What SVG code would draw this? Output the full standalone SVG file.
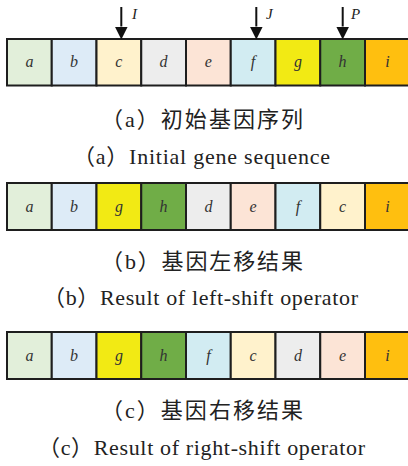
<svg xmlns="http://www.w3.org/2000/svg" width="408" height="466" viewBox="0 0 408 466">
<style>
.cell{stroke:#1e1e1e;stroke-width:2}
.lbl{font-family:"Liberation Serif",serif;font-style:italic;font-size:16px;fill:#333;text-anchor:middle}
.cap{font-family:"Liberation Serif","Noto Sans CJK SC",serif;font-size:22px;fill:#222}
.en{font-family:"Liberation Serif","Noto Sans CJK SC",serif;font-size:22px;fill:#222}
.ptr{font-family:"Liberation Serif",serif;font-style:italic;font-size:15px;fill:#222}
.cA{fill:#e2efda}.cB{fill:#ddebf7}.cC{fill:#fff2cc}.cD{fill:#ededed}.cE{fill:#fce4d6}
.cF{fill:#d2ecf2}.cG{fill:#f2ea14}.cH{fill:#70ad47}.cI{fill:#ffbf0f}
.arr{stroke:#111;stroke-width:2;fill:none}
</style>
<defs>
<marker id="ah" markerUnits="userSpaceOnUse" markerWidth="14" markerHeight="14" refX="0" refY="6.5" orient="auto">
<path d="M0,0 L13,6.5 L0,13 z" fill="#111"/>
</marker>
</defs>

<!-- Row a: initial sequence -->
<g id="rowA">
<g id="a-a"><rect class="cell cA" x="7" y="39" width="44.75" height="46.5"/><text class="lbl" x="29.4" y="67">a</text></g>
<g id="a-b"><rect class="cell cB" x="51.75" y="39" width="44.75" height="46.5"/><text class="lbl" x="74.1" y="67">b</text></g>
<g id="a-c"><rect class="cell cC" x="96.5" y="39" width="44.75" height="46.5"/><text class="lbl" x="118.9" y="67">c</text></g>
<g id="a-d"><rect class="cell cD" x="141.25" y="39" width="44.75" height="46.5"/><text class="lbl" x="163.6" y="67">d</text></g>
<g id="a-e"><rect class="cell cE" x="186" y="39" width="44.75" height="46.5"/><text class="lbl" x="208.4" y="67">e</text></g>
<g id="a-f"><rect class="cell cF" x="230.75" y="39" width="44.75" height="46.5"/><text class="lbl" x="253.1" y="67">f</text></g>
<g id="a-g"><rect class="cell cG" x="275.5" y="39" width="44.75" height="46.5"/><text class="lbl" x="297.9" y="67">g</text></g>
<g id="a-h"><rect class="cell cH" x="320.25" y="39" width="44.75" height="46.5"/><text class="lbl" x="342.6" y="67">h</text></g>
<g id="a-i"><rect class="cell cI" x="365" y="39" width="44.75" height="46.5"/><text class="lbl" x="387.4" y="67">i</text></g>
</g>

<!-- Row b: left-shift -->
<g id="rowB">
<g id="b-a"><rect class="cell cA" x="7" y="183" width="44.75" height="47"/><text class="lbl" x="29.4" y="211.5">a</text></g>
<g id="b-b"><rect class="cell cB" x="51.75" y="183" width="44.75" height="47"/><text class="lbl" x="74.1" y="211.5">b</text></g>
<g id="b-g"><rect class="cell cG" x="96.5" y="183" width="44.75" height="47"/><text class="lbl" x="118.9" y="211.5">g</text></g>
<g id="b-h"><rect class="cell cH" x="141.25" y="183" width="44.75" height="47"/><text class="lbl" x="163.6" y="211.5">h</text></g>
<g id="b-d"><rect class="cell cD" x="186" y="183" width="44.75" height="47"/><text class="lbl" x="208.4" y="211.5">d</text></g>
<g id="b-e"><rect class="cell cE" x="230.75" y="183" width="44.75" height="47"/><text class="lbl" x="253.1" y="211.5">e</text></g>
<g id="b-f"><rect class="cell cF" x="275.5" y="183" width="44.75" height="47"/><text class="lbl" x="297.9" y="211.5">f</text></g>
<g id="b-c"><rect class="cell cC" x="320.25" y="183" width="44.75" height="47"/><text class="lbl" x="342.6" y="211.5">c</text></g>
<g id="b-i"><rect class="cell cI" x="365" y="183" width="44.75" height="47"/><text class="lbl" x="387.4" y="211.5">i</text></g>
</g>

<!-- Row c: right-shift -->
<g id="rowC">
<g id="c-a"><rect class="cell cA" x="7" y="332" width="44.75" height="47"/><text class="lbl" x="29.4" y="360.5">a</text></g>
<g id="c-b"><rect class="cell cB" x="51.75" y="332" width="44.75" height="47"/><text class="lbl" x="74.1" y="360.5">b</text></g>
<g id="c-g"><rect class="cell cG" x="96.5" y="332" width="44.75" height="47"/><text class="lbl" x="118.9" y="360.5">g</text></g>
<g id="c-h"><rect class="cell cH" x="141.25" y="332" width="44.75" height="47"/><text class="lbl" x="163.6" y="360.5">h</text></g>
<g id="c-f"><rect class="cell cF" x="186" y="332" width="44.75" height="47"/><text class="lbl" x="208.4" y="360.5">f</text></g>
<g id="c-c"><rect class="cell cC" x="230.75" y="332" width="44.75" height="47"/><text class="lbl" x="253.1" y="360.5">c</text></g>
<g id="c-d"><rect class="cell cD" x="275.5" y="332" width="44.75" height="47"/><text class="lbl" x="297.9" y="360.5">d</text></g>
<g id="c-e"><rect class="cell cE" x="320.25" y="332" width="44.75" height="47"/><text class="lbl" x="342.6" y="360.5">e</text></g>
<g id="c-i"><rect class="cell cI" x="365" y="332" width="44.75" height="47"/><text class="lbl" x="387.4" y="360.5">i</text></g>
</g>

<!-- Pointers -->
<g id="connectors">
<line class="arr" x1="121.3" y1="7" x2="121.3" y2="26.5" marker-end="url(#ah)"/>
<line class="arr" x1="256.3" y1="7" x2="256.3" y2="26.5" marker-end="url(#ah)"/>
<line class="arr" x1="342.7" y1="7" x2="342.7" y2="26.5" marker-end="url(#ah)"/>
</g>
<g id="pointer-labels">
<text class="ptr" x="132" y="19">I</text>
<text class="ptr" x="266" y="19">J</text>
<text class="ptr" x="351" y="19">P</text>
</g>

<!-- Captions -->
<g id="captions">
<text class="cap" x="101" y="127" textLength="202" lengthAdjust="spacing">（a）初始基因序列</text>
<text class="en" x="73" y="164" textLength="257" lengthAdjust="spacing">（a）Initial gene sequence</text>
<text class="cap" x="101" y="269" textLength="202" lengthAdjust="spacing">（b）基因左移结果</text>
<text class="en" x="43" y="305" textLength="315" lengthAdjust="spacing">（b）Result of left-shift operator</text>
<text class="cap" x="101" y="418" textLength="202" lengthAdjust="spacing">（c）基因右移结果</text>
<text class="en" x="38" y="455" textLength="327" lengthAdjust="spacing">（c）Result of right-shift operator</text>
</g>
</svg>
